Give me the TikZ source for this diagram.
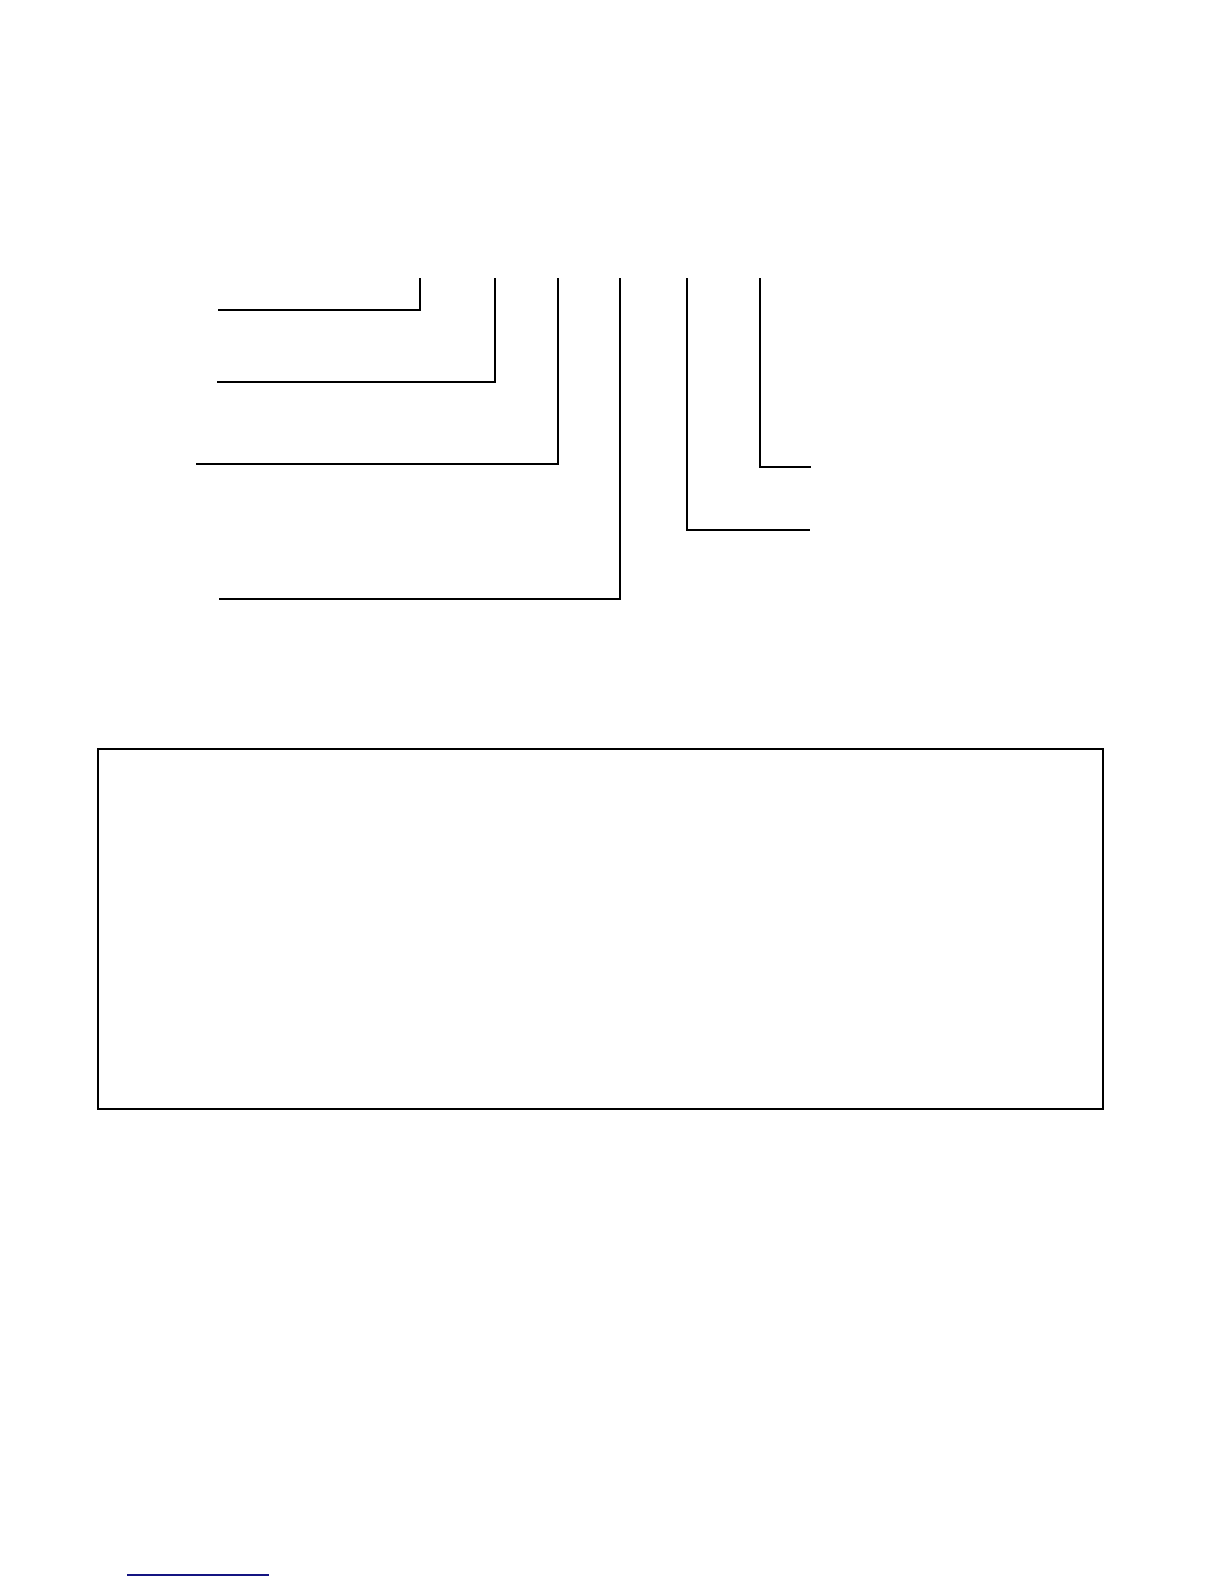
\documentclass[tikz,border=0pt]{standalone}
\begin{document}
\begin{tikzpicture}[x=0.5pt,y=-0.5pt,
  leader/.style={draw=black,line width=0.6pt},
  frame/.style={draw=black,line width=1.1pt},
  rule/.style={draw={rgb,255:red,20;green,20;blue,130},line width=0.8pt}]
\useasboundingbox (0,0) rectangle (1224,1584);
% leader lines (left group)
\coordinate (t1) at (420,278); \coordinate (c1) at (420,310); \coordinate (e1) at (218,310);
\coordinate (t2) at (495,278); \coordinate (c2) at (495,382); \coordinate (e2) at (217,382);
\coordinate (t3) at (558,278); \coordinate (c3) at (558,464); \coordinate (e3) at (196,464);
\coordinate (t4) at (620,278); \coordinate (c4) at (620,599); \coordinate (e4) at (219,599);
% leader lines (right group)
\coordinate (t5) at (687,278); \coordinate (c5) at (687,530); \coordinate (e5) at (810,530);
\coordinate (t6) at (760,278); \coordinate (c6) at (760,467); \coordinate (e6) at (811,467);
\draw[leader] (t1) -- (c1) -- (e1);
\draw[leader] (t2) -- (c2) -- (e2);
\draw[leader] (t3) -- (c3) -- (e3);
\draw[leader] (t4) -- (c4) -- (e4);
\draw[leader] (t5) -- (c5) -- (e5);
\draw[leader] (t6) -- (c6) -- (e6);
% box
\draw[frame] (98,749) rectangle (1103,1109);
% footnote rule
\coordinate (r1) at (127,1575); \coordinate (r2) at (269,1575);
\draw[rule] (r1) -- (r2);
\end{tikzpicture}
\end{document}
